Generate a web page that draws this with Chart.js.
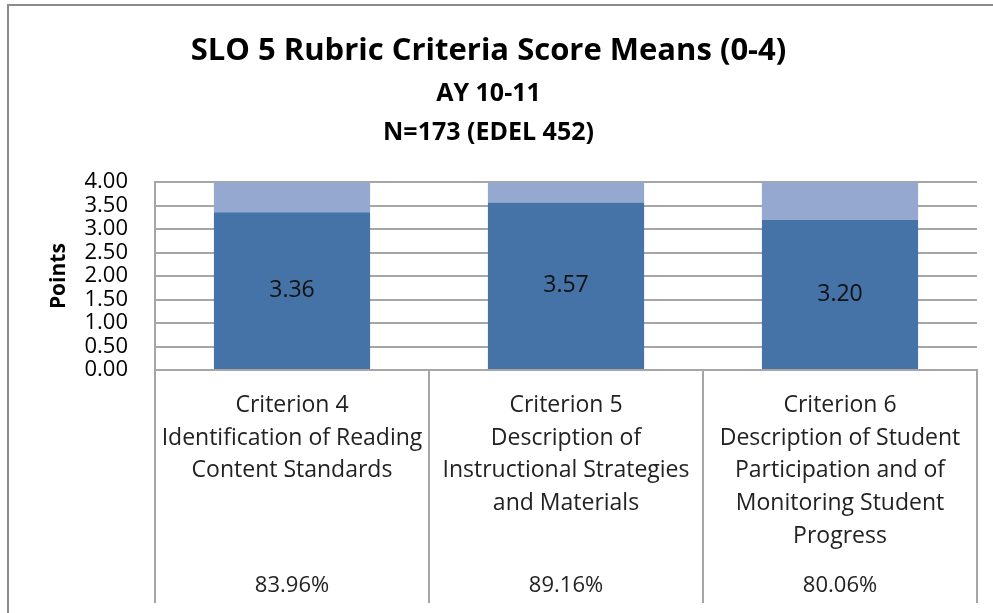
<!DOCTYPE html>
<html>
<head>
<meta charset="utf-8">
<script src="https://cdn.jsdelivr.net/npm/chart.js@4.4.0/dist/chart.umd.min.js"></script>
<style>
  html, body { margin: 0; padding: 0; background: #fff; }
  #wrap { width: 993px; height: 613px; position: relative; }
</style>
</head>
<body>
<div id="wrap"><canvas id="chart"></canvas></div>
<script>
const categories = [
    ['Criterion 4', 'Identification of Reading', 'Content Standards'],
    ['Criterion 5', 'Description of', 'Instructional Strategies', 'and Materials'],
    ['Criterion 6', 'Description of Student', 'Participation and of', 'Monitoring Student', 'Progress']
];
const means = [3.36, 3.57, 3.20];
const remainder = [0.64, 0.43, 0.80];
const percents = ['83.96%', '89.16%', '80.06%'];

const FONT = '"Open Sans", "Noto Sans", sans-serif';
const GRID = '#a6a6a6';

// outer frame of the original chart object
const framePlugin = {
    id: 'frame',
    beforeDraw(chart) {
        const c = chart.ctx;
        c.save();
        c.strokeStyle = '#8c8c8c';
        c.lineWidth = 2;
        c.beginPath();
        c.moveTo(8, 613);
        c.lineTo(8, 5);
        c.lineTo(993, 5);
        c.stroke();
        c.restore();
    }
};

// data table under the plot: vertical separators and percentages
const tablePlugin = {
    id: 'table',
    afterDraw(chart) {
        const c = chart.ctx;
        const x = chart.scales.x;
        const top = chart.chartArea.bottom;
        c.save();
        c.strokeStyle = GRID;
        c.lineWidth = 2;
        for (let i = 0; i <= categories.length; i++) {
            const px = Math.round(x.getPixelForValue(i - 0.5));
            c.beginPath();
            c.moveTo(px, top);
            c.lineTo(px, 603);
            c.stroke();
        }
        c.fillStyle = '#222';
        c.font = '22px ' + FONT;
        c.textAlign = 'center';
        c.textBaseline = 'middle';
        percents.forEach((p, i) => {
            c.fillText(p, x.getPixelForValue(i), 586);
        });
        c.restore();
    }
};

// value labels in the middle of the mean bars
const valuePlugin = {
    id: 'values',
    afterDatasetsDraw(chart) {
        const c = chart.ctx;
        const meta = chart.getDatasetMeta(0);
        c.save();
        c.fillStyle = '#111';
        c.font = '23px ' + FONT;
        c.textAlign = 'center';
        c.textBaseline = 'middle';
        meta.data.forEach((bar, i) => {
            c.fillText(means[i].toFixed(2), bar.x, (bar.y + bar.base) / 2);
        });
        c.restore();
    }
};

new Chart(document.getElementById('chart'), {
    type: 'bar',
    data: {
        labels: categories,
        datasets: [
            {
                label: 'Mean',
                data: means,
                backgroundColor: '#4573a7',
                categoryPercentage: 1,
                barPercentage: 0.57
            },
            {
                label: 'Remainder',
                data: remainder,
                backgroundColor: '#95a9d0',
                categoryPercentage: 1,
                barPercentage: 0.57
            }
        ]
    },
    options: {
        responsive: true,
        maintainAspectRatio: false,
        animation: false,
        layout: { padding: { top: 0, right: 16, bottom: 10, left: 0 } },
        plugins: {
            legend: { display: false },
            tooltip: { enabled: false },
            title: {
                display: true,
                text: 'SLO 5 Rubric Criteria Score Means (0-4)',
                color: '#000',
                font: { family: FONT, size: 31, weight: 'bold', lineHeight: 1.2 },
                padding: { top: 33, bottom: 4 }
            },
            subtitle: {
                display: true,
                text: ['AY 10-11', 'N=173 (EDEL 452)'],
                color: '#000',
                font: { family: FONT, size: 25, weight: 'bold', lineHeight: 1.56 },
                padding: { top: 0, bottom: 30 }
            }
        },
        scales: {
            x: {
                stacked: true,
                grid: { display: false },
                border: { color: GRID, width: 2 },
                ticks: {
                    color: '#222',
                    font: { family: FONT, size: 23, lineHeight: 1.42 },
                    padding: 11,
                    maxRotation: 0,
                    autoSkip: false
                },
                afterFit(scale) { scale.height = 233; }
            },
            y: {
                stacked: true,
                min: 0,
                max: 4,
                grid: { color: GRID, lineWidth: 2, drawTicks: false },
                border: { color: GRID, width: 2 },
                ticks: {
                    stepSize: 0.5,
                    autoSkip: false,
                    color: '#000',
                    font: { family: FONT, size: 22, lineHeight: 1 },
                    padding: 27,
                    callback: v => v.toFixed(2)
                },
                title: {
                    display: true,
                    text: 'Points',
                    color: '#000',
                    font: { family: FONT, size: 21, weight: 'bold' },
                    padding: { top: 46, bottom: 0 }
                },
                afterFit(scale) { scale.width = 155; }
            }
        }
    },
    plugins: [framePlugin, tablePlugin, valuePlugin]
});
</script>
</body>
</html>
